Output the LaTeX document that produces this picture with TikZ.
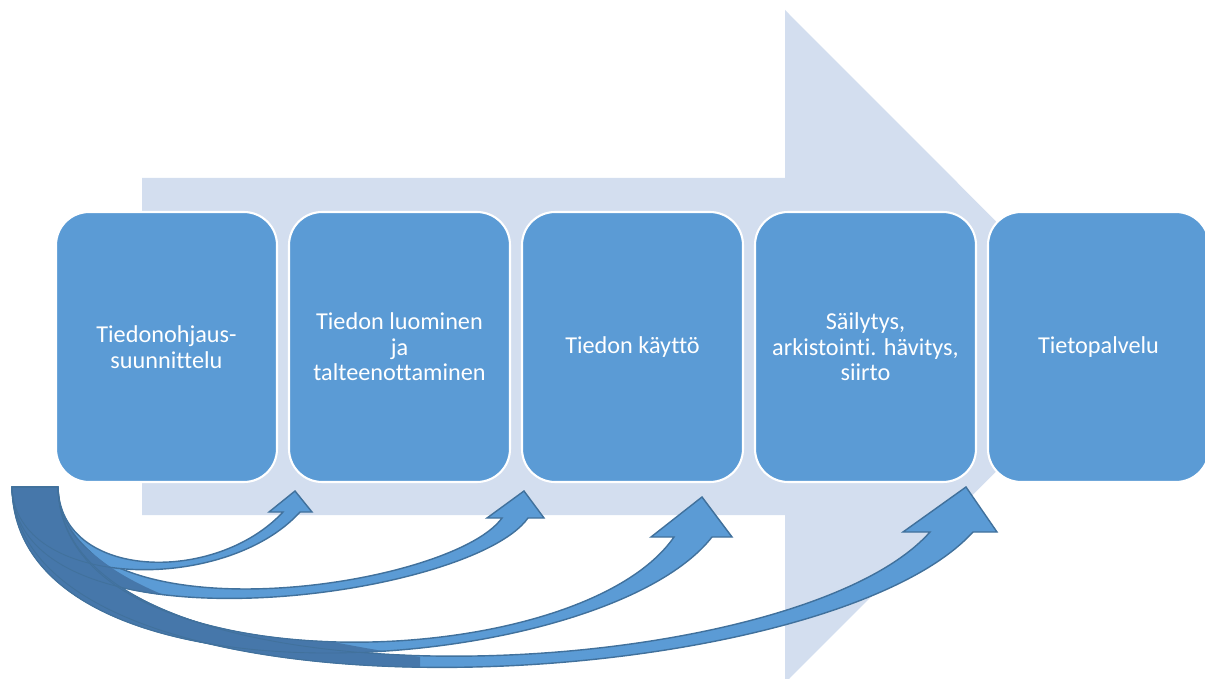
\documentclass[tikz,border=0pt]{standalone}
\usepackage{fontspec}
\setmainfont{Carlito}[Ligatures={NoCommon}]
\definecolor{boxblue}{HTML}{5B9BD5}
\definecolor{bigarrowc}{HTML}{D3DEEF}
\definecolor{arrowline}{HTML}{41719C}
\definecolor{arrowdark}{HTML}{4677AA}
\begin{document}
\begin{tikzpicture}[x=0.02cm,y=-0.02cm,
  stagebox/.style={draw=white, line width=1.2pt, fill=boxblue, rounded corners=0.66cm,
    minimum width=4.42cm, minimum height=5.4cm, inner sep=0pt, align=center,
    text=white, font=\fontsize{13.8}{14.6}\selectfont},
  curvefill/.style={fill=boxblue},
  curveback/.style={fill=arrowdark},
  curveline/.style={draw=arrowline, line width=0.8pt, line join=miter}]
\useasboundingbox (0,0) rectangle (1205,679);
\clip (0,0) rectangle (1205,679);
% big background arrow
\fill[bigarrowc] (142,178) -- (785,178) -- (785,10) -- (1121,346.5) -- (785,683) -- (785,515) -- (142,515) -- cycle;
% stage boxes
\node[stagebox] (b1) at (166.5,347) {Tiedonohjaus-\\suunnittelu};
\node[stagebox] (b2) at (399.5,347) {Tiedon luominen\\ja\\talteenottaminen};
\node[stagebox] (b3) at (632.5,347) {Tiedon käyttö};
\node[stagebox] (b4) at (865.5,347) {Säilytys,\\arkistointi. hävitys,\\siirto};
\node[stagebox] (b5) at (1098.5,347) {Tietopalvelu};
% curved arrows (4 -> 1)
\def\arrowD{(12,487) .. controls (20,740) and (820,700) .. (973,532) -- (997,532) -- (966,487) -- (903,532) -- (930,532) .. controls (790,690) and (60,720) .. (58,487) -- cycle}
\def\arrowC{(12,487) .. controls (15,720) and (600,680) .. (712,537) -- (732,537) -- (702,497) -- (651,537) -- (674,537) .. controls (575,680) and (60,690) .. (58,487) -- cycle}
\def\arrowB{(12,487) .. controls (15,660) and (470,600) .. (528,518) -- (544,518) -- (524,491) -- (487,518) -- (502,518) .. controls (450,590) and (60,645) .. (58,487) -- cycle}
\def\arrowA{(12,487) .. controls (15,590) and (225,595) .. (300,512) -- (312,512) -- (295,491) -- (269,512) -- (283,512) .. controls (215,585) and (60,580) .. (58,487) -- cycle}
\def\backregion{(58,470) -- (58,487) .. controls (62,570) and (180,620) .. (420,657) -- (420,700) -- (0,700) -- (0,470) -- cycle}
\foreach \P in {\arrowD,\arrowC,\arrowB,\arrowA}{
  \fill[curvefill] \P;
  \draw[curveline] \P;
}
% darker back faces of the curved arrows
\begin{scope}
  \clip \backregion;
  \foreach \P in {\arrowD,\arrowC,\arrowB,\arrowA}{
    \begin{scope}
      \clip \P;
      \fill[curveback] (0,470) rectangle (430,700);
    \end{scope}
  }
  \foreach \P in {\arrowD,\arrowC,\arrowB,\arrowA}{
    \draw[curveline, line width=0.5pt] \P;
  }
\end{scope}
\end{tikzpicture}
\end{document}
